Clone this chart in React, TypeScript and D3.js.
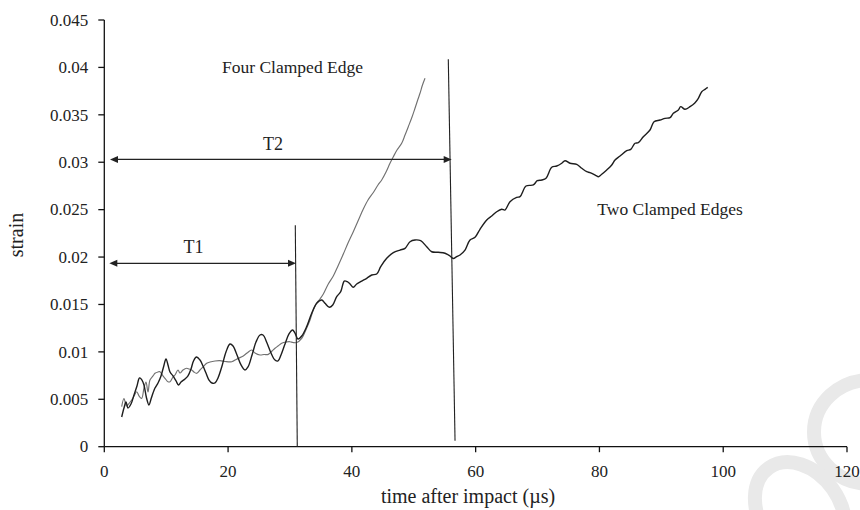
import React from "react";
import * as d3 from "d3";

// ---- Data ----
const xTicks = [0, 20, 40, 60, 80, 100, 120];
const yTicks = [0, 0.005, 0.01, 0.015, 0.02, 0.025, 0.03, 0.035, 0.04, 0.045];
const yTickLabels = ["0", "0.005", "0.01", "0.015", "0.02", "0.025", "0.03", "0.035", "0.04", "0.045"];

// Two Clamped Edges (black)
const twoTime = [
  2.81, 3.18, 3.51, 3.83, 4.31, 4.8, 5.28, 5.69, 6.09, 6.41, 6.82, 7.22, 7.55, 7.87, 8.19, 8.68, 9.16, 9.57, 9.97,
  10.29, 10.62, 11.1, 11.59, 11.99, 12.39, 13.04, 13.52, 14.01, 14.41, 14.9, 15.46, 15.95, 16.43, 16.92, 17.4,
  17.89, 18.37, 19.02, 19.66, 20.31, 20.8, 21.44, 22.09, 22.73, 23.22, 23.87, 24.51, 25.16, 25.64, 26.29, 26.94,
  27.58, 28.07, 28.55, 29.2, 29.84, 30.41, 30.81, 31.3, 31.9, 32.7, 33.51, 34.32, 35.13, 35.66, 36.36, 36.91,
  37.55, 38.2, 38.78, 39.26, 39.7, 40.23, 40.78, 41.59, 42.4, 43.21, 44.01, 44.66, 45.63, 46.7, 47.78, 48.59,
  49.4, 50.2, 51.12, 52.09, 52.9, 53.97, 55.05, 55.86, 56.39, 56.94, 57.47, 58.28, 59.09, 59.9, 60.7, 61.79,
  62.6, 63.4, 64.21, 64.74, 65.55, 66.63, 67.17, 68.14, 69.32, 69.96, 70.68, 71.37, 72.29, 73.1, 73.91, 74.44,
  75.25, 76.33, 77.14, 77.95, 78.48, 79.56, 79.82, 80.37, 81.18, 81.99, 82.52, 83.33, 84.41, 85.06, 85.75,
  86.28, 87.09, 88.17, 88.82, 89.79, 90.6, 91.41, 91.94, 92.75, 93.13, 93.83, 94.64, 95.45, 95.98, 96.53,
  97.06, 97.5,
];
const twoStrain = [
  0.00313, 0.00408, 0.00471, 0.00408, 0.0045, 0.00545, 0.0064, 0.00725, 0.00703, 0.00651, 0.00514, 0.0044,
  0.00503, 0.00566, 0.00619, 0.00672, 0.00746, 0.00841, 0.00925, 0.00862, 0.00788, 0.00746, 0.00693, 0.00651,
  0.00682, 0.00714, 0.00746, 0.00819, 0.00904, 0.00946, 0.00914, 0.00851, 0.00777, 0.00703, 0.00672, 0.00672,
  0.00725, 0.00851, 0.00999, 0.01083, 0.01062, 0.00967, 0.00862, 0.00809, 0.00841, 0.00967, 0.01104, 0.01178,
  0.01178, 0.01094, 0.00988, 0.00914, 0.00904, 0.00967, 0.01083, 0.01189, 0.01231, 0.01199, 0.01136, 0.01167,
  0.01266, 0.01407, 0.01512, 0.01547, 0.01512, 0.0147, 0.01494, 0.01582, 0.01635, 0.01747, 0.0174, 0.01716,
  0.01681, 0.01716, 0.01747, 0.01776, 0.01811, 0.01821, 0.01898, 0.01987, 0.02046, 0.02074, 0.02092, 0.02162,
  0.0218, 0.02172, 0.02109, 0.02056, 0.0205, 0.0204, 0.02011, 0.01985, 0.02004, 0.02022, 0.02074, 0.0218,
  0.02208, 0.02293, 0.02391, 0.02433, 0.02478, 0.02504, 0.02496, 0.02584, 0.0263, 0.02637, 0.02749, 0.0276,
  0.02805, 0.02813, 0.02831, 0.02947, 0.0296, 0.02989, 0.03016, 0.02989, 0.02978, 0.02936, 0.029, 0.0289,
  0.02855, 0.02847, 0.02873, 0.02918, 0.02971, 0.03024, 0.03066, 0.03122, 0.03136, 0.032, 0.03206, 0.03269,
  0.0334, 0.03427, 0.03445, 0.03463, 0.0347, 0.03516, 0.03551, 0.03586, 0.03558, 0.03586, 0.03628, 0.03674,
  0.03744, 0.03769, 0.0379,
];

// Four Clamped Edge (gray)
const fourTime = [
  2.81, 3.18, 3.59, 3.91, 4.43, 4.8, 5.24, 5.61, 6.04, 6.41, 6.74, 7.06, 7.38, 7.87, 8.19, 8.68, 9.0, 9.48, 9.81,
  10.29, 10.62, 11.1, 11.42, 11.91, 12.23, 12.72, 13.31, 13.69, 14.12, 14.49, 14.93, 15.46, 16.0, 16.55, 17.08,
  17.89, 18.69, 19.5, 20.59, 21.44, 22.46, 23.06, 23.82, 24.35, 25.16, 25.8, 26.5, 27.1, 27.58, 28.07, 28.66,
  29.36, 30.01, 30.49, 31.09, 31.9, 32.7, 33.24, 33.77, 34.32, 34.85, 35.39, 36.19, 37.0, 37.76, 38.62, 39.38,
  40.23, 40.99, 41.85, 42.61, 43.47, 44.22, 44.82, 45.52, 46.16, 46.7, 47.29, 48.05, 48.59, 49.12, 49.72, 50.2,
  50.69, 51.01, 51.41, 51.82,
];
const fourStrain = [
  0.00422, 0.00508, 0.00429, 0.0045, 0.00492, 0.00535, 0.0058, 0.00535, 0.0051, 0.00619, 0.00682, 0.00577,
  0.00703, 0.00746, 0.00774, 0.00788, 0.00791, 0.00746, 0.00721, 0.00685, 0.00685, 0.00735, 0.00756, 0.00809,
  0.00777, 0.00809, 0.00827, 0.00819, 0.00809, 0.00788, 0.00774, 0.00809, 0.00844, 0.0088, 0.00893, 0.00904,
  0.00907, 0.00899, 0.00896, 0.00925, 0.00957, 0.00988, 0.0102, 0.00988, 0.00967, 0.00972, 0.00974, 0.01009,
  0.01038, 0.01062, 0.0109, 0.01104, 0.01107, 0.01099, 0.01099, 0.01143, 0.01252, 0.01336, 0.01442, 0.01515,
  0.01558, 0.0161, 0.01716, 0.018, 0.01906, 0.02032, 0.02148, 0.02267, 0.0238, 0.02507, 0.02602, 0.02681,
  0.0276, 0.02813, 0.02897, 0.02989, 0.03058, 0.03129, 0.032, 0.03287, 0.03375, 0.03477, 0.03569, 0.03667,
  0.03727, 0.03814, 0.03885,
];

// Annotation marks (data units)
const markerLines = [
  { x1: 30.86, y1: 0.02335, x2: 31.18, y2: 0.0 },
  { x1: 55.58, y1: 0.04086, x2: 56.67, y2: 0.00063 },
];
const spanArrows = [
  { label: "T1", x1: 0.81, x2: 30.97, y: 0.01934, lx: 14.41, ly: 0.02048 },
  { label: "T2", x1: 0.92, x2: 56.13, y: 0.0303, lx: 27.26, ly: 0.03129 },
];
const curveLabels = [
  { text: "Four Clamped Edge", x: 19.02, y: 0.0394 },
  { text: "Two Clamped Edges", x: 79.66, y: 0.02443 },
];

const W = 860;
const H = 510;
const FONT = "'Liberation Serif', 'Times New Roman', serif";

export default function App() {
  const x = d3.scaleLinear().domain([0, 120]).range([104.3, 847]);
  const y = d3.scaleLinear().domain([0, 0.045]).range([446.7, 20]);

  const two = twoTime.map((t, i) => [t, twoStrain[i]] as [number, number]);
  const four = fourTime.map((t, i) => [t, fourStrain[i]] as [number, number]);

  const line = d3
    .line<[number, number]>()
    .x((d) => x(d[0]))
    .y((d) => y(d[1]))
    .curve(d3.curveCatmullRom.alpha(0.5));

  const x0 = x(0);
  const y0 = y(0);

  const arrowHead = (px: number, py: number, dir: number) => {
    const L = 8;
    const Wd = 3.5;
    return `M${px},${py} L${px - dir * L},${py - Wd} L${px - dir * L},${py + Wd} Z`;
  };

  return (
    <svg
      width={W}
      height={H}
      style={{ position: "absolute", left: 0, top: 0, background: "#fff" }}
      fontFamily={FONT}
    >
      <rect width={W} height={H} fill="#fff" />
      {/* faint watermark rings */}
      <g fill="none" stroke="#e9e9e9" strokeWidth={14}>
        <ellipse cx={870} cy={432} rx={56} ry={52} />
        <ellipse cx={800} cy={512} rx={40} ry={54} transform="rotate(-35 800 512)" />
      </g>

      {/* axes */}
      <g stroke="#111" strokeWidth={1.3} fill="none">
        <line x1={x0} y1={y(0.045)} x2={x0} y2={y0} />
        <line x1={x0} y1={y0} x2={x(120)} y2={y0} />
        {yTicks.map((t) => (
          <line key={"yt" + t} x1={x0 - 6} x2={x0} y1={y(t)} y2={y(t)} />
        ))}
        {xTicks.map((t) => (
          <line key={"xt" + t} x1={x(t)} x2={x(t)} y1={y0} y2={y0 + 5.5} />
        ))}
      </g>
      <g fontSize={17} fill="#222">
        {yTicks.map((t, i) => (
          <text key={"yl" + t} x={x0 - 16} y={y(t)} dy="0.34em" textAnchor="end">
            {yTickLabels[i]}
          </text>
        ))}
        {xTicks.map((t) => (
          <text key={"xl" + t} x={x(t)} y={y0 + 30} textAnchor="middle">
            {String(t)}
          </text>
        ))}
      </g>
      <text x={468} y={503} fontSize={20} textAnchor="middle" fill="#222">
        time after impact (µs)
      </text>
      <text
        transform={`translate(23,235) rotate(-90)`}
        fontSize={20}
        textAnchor="middle"
        fill="#222"
      >
        strain
      </text>

      {/* curves */}
      <path d={line(four) || ""} fill="none" stroke="#707070" strokeWidth={1.15} />
      <path d={line(two) || ""} fill="none" stroke="#1e1e1e" strokeWidth={1.4} />

      {/* marker lines */}
      {markerLines.map((m, i) => (
        <line
          key={"ml" + i}
          x1={x(m.x1)}
          y1={y(m.y1)}
          x2={x(m.x2)}
          y2={y(m.y2)}
          stroke="#222"
          strokeWidth={1.1}
        />
      ))}

      {/* span arrows */}
      {spanArrows.map((a) => (
        <g key={a.label}>
          <line
            x1={x(a.x1) + 4}
            x2={x(a.x2) - 4}
            y1={y(a.y)}
            y2={y(a.y)}
            stroke="#222"
            strokeWidth={1.2}
          />
          <path d={arrowHead(x(a.x1), y(a.y), -1)} fill="#222" />
          <path d={arrowHead(x(a.x2), y(a.y), 1)} fill="#222" />
          <text x={x(a.lx)} y={y(a.ly)} fontSize={18} textAnchor="middle" fill="#222">
            {a.label}
          </text>
        </g>
      ))}

      {curveLabels.map((c) => (
        <text key={c.text} x={x(c.x)} y={y(c.y)} fontSize={17.5} fill="#222">
          {c.text}
        </text>
      ))}
    </svg>
  );
}
